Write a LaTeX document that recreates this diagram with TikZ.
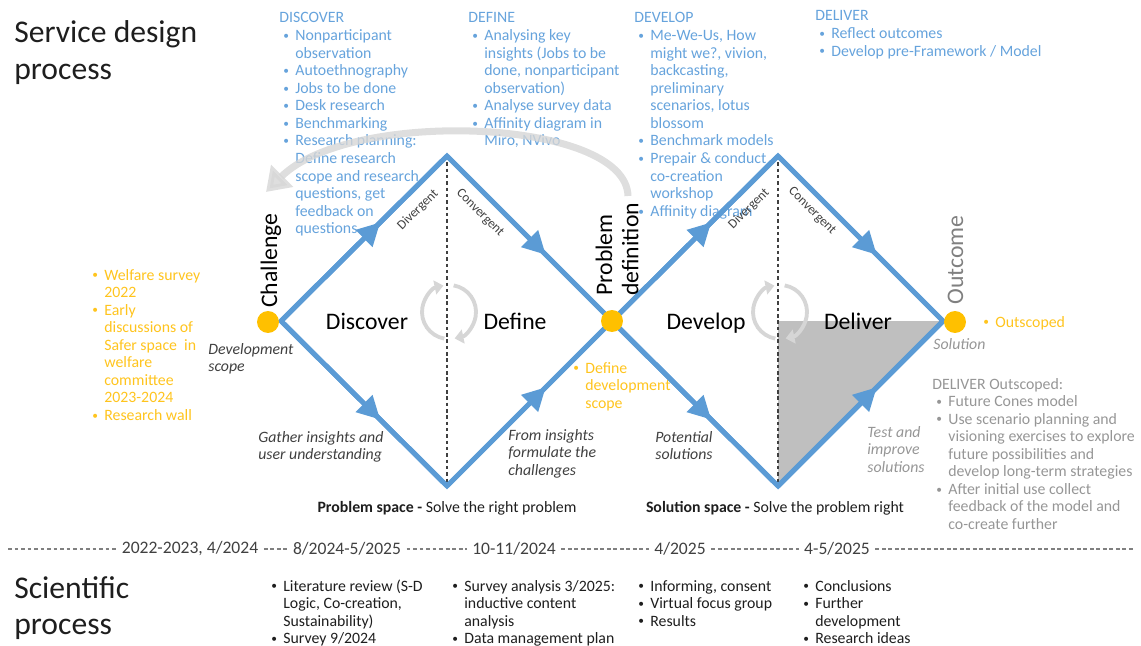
\documentclass[tikz,border=0pt]{standalone}
\usepackage{fontspec}
\setmainfont{Carlito}
\usetikzlibrary{arrows.meta}
\usetikzlibrary{decorations.markings}
\definecolor{flowblue}{RGB}{91,155,213}
\definecolor{txtblue}{RGB}{102,163,220}
\definecolor{dotyellow}{RGB}{255,192,0}
\definecolor{txtyellow}{RGB}{255,196,30}
\definecolor{shadegray}{RGB}{191,191,191}
\definecolor{cyclegray}{RGB}{214,214,214}
\definecolor{darktxt}{RGB}{30,30,30}
\definecolor{midtxt}{RGB}{64,64,64}
\definecolor{lighttxt}{RGB}{150,150,150}
\newcommand{\bu}{\hspace*{2.3pt}\makebox[6.8pt][l]{\fontsize{6.5}{6}\selectfont\raisebox{0.7pt}{\textbullet}}}
\newcommand{\ct}{\hspace*{9.1pt}}
\newcommand{\lines}[1]{\begin{tabular}[t]{@{}l@{}}#1\end{tabular}}
\tikzset{
    flow/.style = {line width=2.8pt, draw=flowblue, line join=miter},
    flowarrow/.style = {flow, postaction={decorate, decoration={markings,
        mark=at position 0.6 with {\arrow[flowblue]{Triangle[length=13pt,width=13pt]}}}}},
    ydot/.style = {circle, fill=dotyellow, minimum size=12.5pt, inner sep=0pt},
    midline/.style = {midtxt, line width=0.6pt, dash pattern=on 2pt off 1.6pt},
    timeline/.style = {gray, line width=0.6pt, dash pattern=on 2.2pt off 1.5pt},
    cycarrow/.style = {cyclegray, line width=2.2pt, -{Triangle[length=5pt,width=8pt]}},
    loopback/.style = {cyclegray, line width=4pt, opacity=0.8, -{Triangle[length=13pt,width=17pt]}},
    listtxt/.style = {inner sep=0pt, anchor=base west, font=\fontsize{9}{10}\selectfont},
    bluelist/.style = {listtxt, text=txtblue},
    yellowlist/.style = {listtxt, text=txtyellow},
    graylist/.style = {listtxt, text=lighttxt},
    blacklist/.style = {listtxt, text=darktxt},
    note/.style = {listtxt, text=midtxt, font=\fontsize{9}{10}\selectfont\itshape},
    phase/.style = {anchor=base, inner sep=0pt, font=\fontsize{13.5}{15}\selectfont, text=black},
    vlabel/.style = {rotate=90, anchor=base west, inner sep=0pt, font=\fontsize{13.5}{15}\selectfont},
    edgelabel/.style = {inner sep=0pt, font=\fontsize{7.5}{8}\selectfont, text=darkgray},
    title/.style = {inner sep=0pt, anchor=base west, font=\fontsize{18}{20.5}\selectfont, text=darktxt},
    yearlabel/.style = {inner sep=3pt, font=\fontsize{10}{11}\selectfont, text=darkgray},
}
\begin{document}
\begin{tikzpicture}[x=0.02cm, y=-0.02cm]
\useasboundingbox (0,0) rectangle (1141,645);

% headings
\node[title] (sdp) at (14,43) {\lines{Service design\\process}};
\node[title] (scp) at (14,598) {\lines{Scientific\\process}};

% vertices
\coordinate (chal) at (268,322);
\coordinate (leftA) at (281,321);
\coordinate (topA) at (447,156);
\coordinate (botA) at (447,486);
\coordinate (pdef) at (612,321);
\coordinate (topB) at (778,156);
\coordinate (botB) at (778,486);
\coordinate (rightB) at (943,321);
\coordinate (outc) at (955,322);

% shaded part of deliver
\fill[shadegray] (botB |- rightB) -- (rightB) -- (botB) -- cycle;
\draw[midline] (topA) -- (botA);
\draw[midline] (topB) -- (botB);

% cycles
\coordinate (cycA) at (449,312);
\coordinate (cycB) at (780,312);
\draw[cycarrow] (cycA) ++(100:27) arc[start angle=100, end angle=258, radius=27];
\draw[cycarrow] (cycA) ++(-80:27) arc[start angle=-80, end angle=78, radius=27];
\draw[cycarrow] (cycB) ++(100:27) arc[start angle=100, end angle=258, radius=27];
\draw[cycarrow] (cycB) ++(-80:27) arc[start angle=-80, end angle=78, radius=27];

% phase notes
\node[bluelist] (discL) at (279,23) {\lines{DISCOVER\\
\bu Nonparticipant\\ \ct observation\\ \bu Autoethnography\\ \bu Jobs to be done\\
\bu Desk research\\ \bu Benchmarking\\ \bu Research planning:\\ \ct Define research\\
\ct scope and research\\ \ct questions, get\\ \ct feedback on\\ \ct questions}};
\node[bluelist] (defL) at (468,23) {\lines{DEFINE\\
\bu Analysing key\\ \ct insights (Jobs to be\\ \ct done, nonparticipant\\ \ct observation)\\
\bu Analyse survey data\\ \bu Affinity diagram in\\ \ct Miro, NVivo}};
\node[bluelist] (devL) at (634,23) {\lines{DEVELOP\\
\bu Me-We-Us, How\\ \ct might we?, vivion,\\ \ct backcasting,\\ \ct preliminary\\
\ct scenarios, lotus\\ \ct blossom\\ \bu Benchmark models\\ \bu Prepair \& conduct\\
\ct co-creation\\ \ct workshop\\ \bu Affinity diagram}};
\node[bluelist] (delL) at (815,21) {\lines{DELIVER\\
\bu Reflect outcomes\\ \bu Develop pre-Framework / Model}};

\node[yellowlist] (startL) at (88,280) {\lines{\bu Welfare survey\\ \ct 2022\\ \bu Early\\
\ct discussions of\\ \ct Safer space\ \ in\\ \ct welfare\\ \ct committee\\ \ct 2023-2024\\
\bu Research wall}};
\node[yellowlist] (scopeL) at (569,373) {\lines{\bu Define\\ \ct development\\ \ct scope}};
\node[yellowlist] (outL) at (979,327) {\bu Outscoped};
\node[graylist] (outsL) at (932,389) {\lines{DELIVER Outscoped:\\ \bu Future Cones model\\
\bu Use scenario planning and\\ \ct visioning exercises to explore\\ \ct future possibilities and\\
\ct develop long-term strategies\\ \bu After initial use collect\\ \ct feedback of the model and\\
\ct co-create further}};

% loop back
\coordinate (loopS) at (628,196);
\coordinate (loopE) at (266,192);
\draw[loopback] (loopS) .. controls (626,118) and (350,108) .. (loopE);

% double diamond
\draw[flow] (leftA) -- (topA) -- (pdef) -- (botA) -- cycle;
\draw[flow] (pdef) -- (topB) -- (rightB) -- (botB) -- cycle;
\draw[flowarrow] (leftA) -- (topA);
\draw[flowarrow] (topA) -- (pdef);
\draw[flowarrow] (leftA) -- (botA);
\draw[flowarrow] (botA) -- (pdef);
\draw[flowarrow] (pdef) -- (topB);
\draw[flowarrow] (topB) -- (rightB);
\draw[flowarrow] (pdef) -- (botB);
\draw[flowarrow] (botB) -- (rightB);

\node[ydot] (chalD) at (chal) {};
\node[ydot] (pdefD) at (pdef) {};
\node[ydot] (outcD) at (outc) {};

% labels
\node[vlabel, text=black] (chalT) at (277,308) {Challenge};
\node[vlabel, text=black] (pdefT) at (612,296) {\lines{Problem\\definition}};
\node[vlabel, text=gray] (outcT) at (963,305) {Outcome};

\node[phase] (discT) at (367,329) {Discover};
\node[phase] (defT) at (515,329) {Define};
\node[phase] (devT) at (706,329) {Develop};
\node[phase] (delT) at (858,329) {Deliver};

\node[edgelabel, rotate=45] (divA) at (418,210) {Divergent};
\node[edgelabel, rotate=-45] (convA) at (480,213) {Convergent};
\node[edgelabel, rotate=45] (divB) at (749,209) {Divergent};
\node[edgelabel, rotate=-45] (convB) at (812,211) {Convergent};

\node[note] (devN) at (208,354) {\lines{Development\\scope}};
\node[note] (gathN) at (258,442) {\lines{Gather insights and\\user understanding}};
\node[note] (fromN) at (508,440) {\lines{From insights\\formulate the\\challenges}};
\node[note] (potN) at (655,442) {\lines{Potential\\solutions}};
\node[note, text=lighttxt] (testN) at (867,437) {\lines{Test and\\improve\\solutions}};
\node[note, text=lighttxt] (solN) at (933,349) {Solution};

\node[blacklist, anchor=base] (probS) at (447,512) {\textbf{Problem space -} Solve the right problem};
\node[blacklist, anchor=base] (solS) at (775,512) {\textbf{Solution space -} Solve the problem right};

% timeline
\coordinate (tlL) at (8,549);
\coordinate (tlR) at (1133,549);
\node[yearlabel] (y1) at (190,549) {2022-2023, 4/2024};
\node[yearlabel] (y2) at (347,549) {8/2024-5/2025};
\node[yearlabel] (y3) at (514,549) {10-11/2024};
\node[yearlabel] (y4) at (680,549) {4/2025};
\node[yearlabel] (y5) at (837,549) {4-5/2025};
\draw[timeline] (tlL) -- (y1) (y1) -- (y2) (y2) -- (y3) (y3) -- (y4) (y4) -- (y5) (y5) -- (tlR);

% scientific steps
\node[blacklist] (sc1) at (267,591) {\lines{\bu Literature review (S-D\\ \ct Logic, Co-creation,\\
\ct Sustainability)\\ \bu Survey 9/2024}};
\node[blacklist] (sc2) at (448,591) {\lines{\bu Survey analysis 3/2025:\\ \ct inductive content\\
\ct analysis\\ \bu Data management plan}};
\node[blacklist] (sc3) at (634,591) {\lines{\bu Informing, consent\\ \bu Virtual focus group\\ \bu Results}};
\node[blacklist] (sc4) at (799,591) {\lines{\bu Conclusions\\ \bu Further\\ \ct development\\ \bu Research ideas}};

\end{tikzpicture}
\end{document}
